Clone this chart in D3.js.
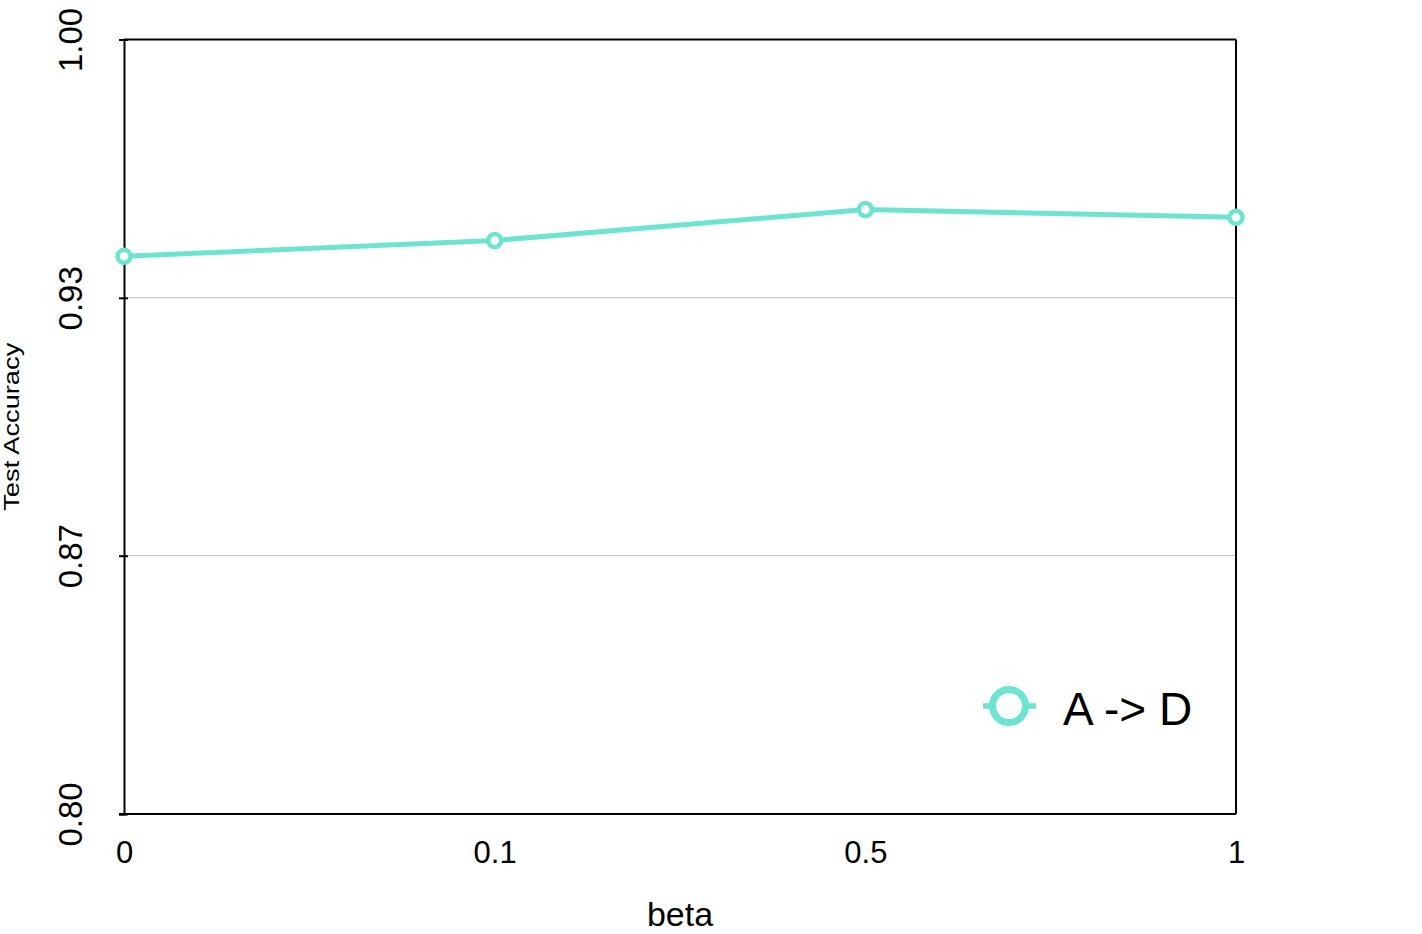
<!DOCTYPE html>
<html>
<head>
<meta charset="utf-8">
<script src="https://cdn.jsdelivr.net/npm/d3@7"></script>
<style>
  html, body { margin: 0; padding: 0; background: #fff; }
  svg { display: block; }
  text { font-family: "Liberation Sans", Arial, Helvetica, sans-serif; fill: #000; }
</style>
</head>
<body>
<svg id="chart" width="1422" height="934"></svg>
<script>
// ---- data ----
const categories = ["0", "0.1", "0.5", "1"];
const seriesName = "A -> D";
const accuracy = [0.9440, 0.9481, 0.9561, 0.9541];
const yTicks = [0.80, 0.8667, 0.9333, 1.00];
const yTickLabels = ["0.80", "0.87", "0.93", "1.00"];
const xTitle = "beta";
const yTitle = "Test Accuracy";

// ---- layout ----
const plotLeft = 124, plotRight = 1236, plotTop = 39.5, plotBottom = 814;
const color = "#6de4cf";

const svg = d3.select("#chart");

const x = d3.scalePoint().domain(categories).range([plotLeft, plotRight]);
const y = d3.scaleLinear().domain([0.8, 1.0]).range([plotBottom, plotTop]);

// grid lines (inner ticks only)
svg.append("g").selectAll("line")
  .data(yTicks.slice(1, -1))
  .join("line")
  .attr("x1", plotLeft + 4).attr("x2", plotRight)
  .attr("y1", d => y(d)).attr("y2", d => y(d))
  .attr("stroke", "#bdbdbd").attr("stroke-width", 1);

// frame: top and right
svg.append("line").attr("x1", plotLeft).attr("x2", plotRight).attr("y1", plotTop).attr("y2", plotTop)
  .attr("stroke", "#000").attr("stroke-width", 2);
svg.append("line").attr("x1", plotRight).attr("x2", plotRight).attr("y1", plotTop).attr("y2", plotBottom)
  .attr("stroke", "#000").attr("stroke-width", 2);

// y axis
const yAxis = d3.axisLeft(y)
  .tickValues(yTicks)
  .tickFormat((d, i) => yTickLabels[i])
  .tickSizeOuter(0)
  .tickSize(5);
const gy = svg.append("g").attr("transform", `translate(${plotLeft},0)`).call(yAxis);
gy.select(".domain").attr("stroke", "#000").attr("stroke-width", 2);
gy.selectAll(".tick line").attr("x1", 4).attr("x2", -5).attr("stroke", "#000").attr("stroke-width", 2);
gy.selectAll(".tick text")
  .attr("x", null).attr("dy", null)
  .attr("transform", `translate(-42,0) rotate(-90)`)
  .attr("text-anchor", "middle")
  .style("font-size", "33px")
  .style("font-family", "'Liberation Sans', Arial, sans-serif")
  .attr("fill", "#000");

// x axis
const xAxis = d3.axisBottom(x).tickSize(0).tickSizeOuter(0);
const gx = svg.append("g").attr("transform", `translate(0,${plotBottom})`).call(xAxis);
gx.select(".domain").attr("stroke", "#000").attr("stroke-width", 2)
  .attr("d", `M${plotLeft - 5},0H${plotRight}`);
gx.selectAll(".tick text")
  .attr("y", 49).attr("dy", null)
  .attr("text-anchor", "middle")
  .style("font-size", "31px")
  .style("font-family", "'Liberation Sans', Arial, sans-serif")
  .attr("fill", "#000");

// axis titles
svg.append("text")
  .attr("x", (plotLeft + plotRight) / 2).attr("y", 926)
  .attr("text-anchor", "middle")
  .style("font-size", "34px")
  .text(xTitle);

svg.append("text")
  .attr("transform", `translate(19,${(plotTop + plotBottom) / 2}) rotate(-90)`)
  .attr("text-anchor", "middle")
  .style("font-size", "22px")
  .attr("textLength", 168)
  .attr("lengthAdjust", "spacingAndGlyphs")
  .text(yTitle);

// line
const data = categories.map((c, i) => ({ c, v: accuracy[i] }));
svg.append("path")
  .datum(data)
  .attr("fill", "none")
  .attr("stroke", color)
  .attr("stroke-width", 5)
  .attr("stroke-linejoin", "round")
  .attr("d", d3.line().x(d => x(d.c)).y(d => y(d.v)));

svg.append("g").selectAll("circle")
  .data(data)
  .join("circle")
  .attr("cx", d => x(d.c)).attr("cy", d => y(d.v))
  .attr("r", 6.5)
  .attr("fill", "#fff")
  .attr("stroke", color)
  .attr("stroke-width", 4.5);

// legend
const lg = svg.append("g").attr("transform", "translate(1009,706)");
lg.append("line").attr("x1", -26).attr("x2", 27).attr("y1", 0).attr("y2", 0)
  .attr("stroke", color).attr("stroke-width", 5.5);
lg.append("circle").attr("r", 16.5).attr("fill", "#fff")
  .attr("stroke", color).attr("stroke-width", 7);
svg.append("text")
  .attr("x", 1063).attr("y", 725)
  .style("font-size", "46px")
  .text(seriesName);
</script>
</body>
</html>
